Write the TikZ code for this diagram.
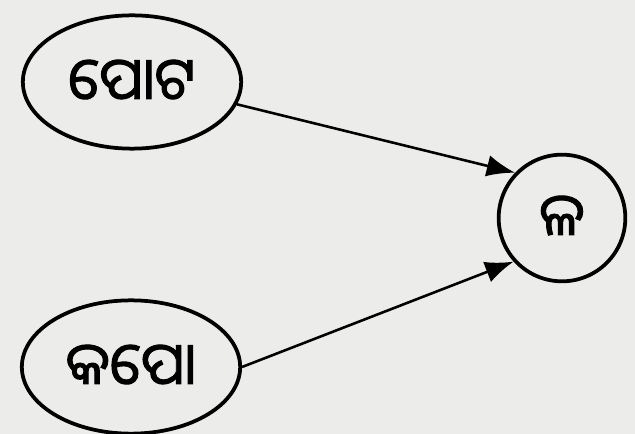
\documentclass[tikz,border=0pt]{standalone}
\usepackage{fontspec}
\newfontfamily\odia[Script=Oriya,FakeBold=1.6]{Noto Sans Oriya UI}
\usetikzlibrary{shapes.geometric, arrows.meta}

\begin{document}
\begin{tikzpicture}[
    word/.style={draw,ellipse,line width=3.2pt,inner sep=0pt,minimum width=6.55cm,minimum height=4cm,font=\odia\fontsize{50}{54}\selectfont},
    root/.style={draw,circle,line width=3.2pt,inner sep=0pt,minimum size=3.8cm,font=\odia\fontsize{50}{54}\selectfont},
    link/.style={line width=2.2pt,-{Latex[length=0.85cm,width=0.65cm]}}
]
    \fill[fill={rgb,255:red,236;green,236;blue,234}] (0,0) rectangle (19.05,13.02);
    \useasboundingbox (0,0) rectangle (19.05,13.02);
    \node[word] (pota) at (3.96,10.56) {ପୋଟ};
    \node[word] (kapo) at (3.93,2.01) {କପୋ};
    \node[root] (la) at (16.86,6.48) {ଳ};
    \draw[link] (pota.-12) -- (la.136);
    \draw[link] (kapo.0) -- (la.-138);
\end{tikzpicture}
\end{document}
